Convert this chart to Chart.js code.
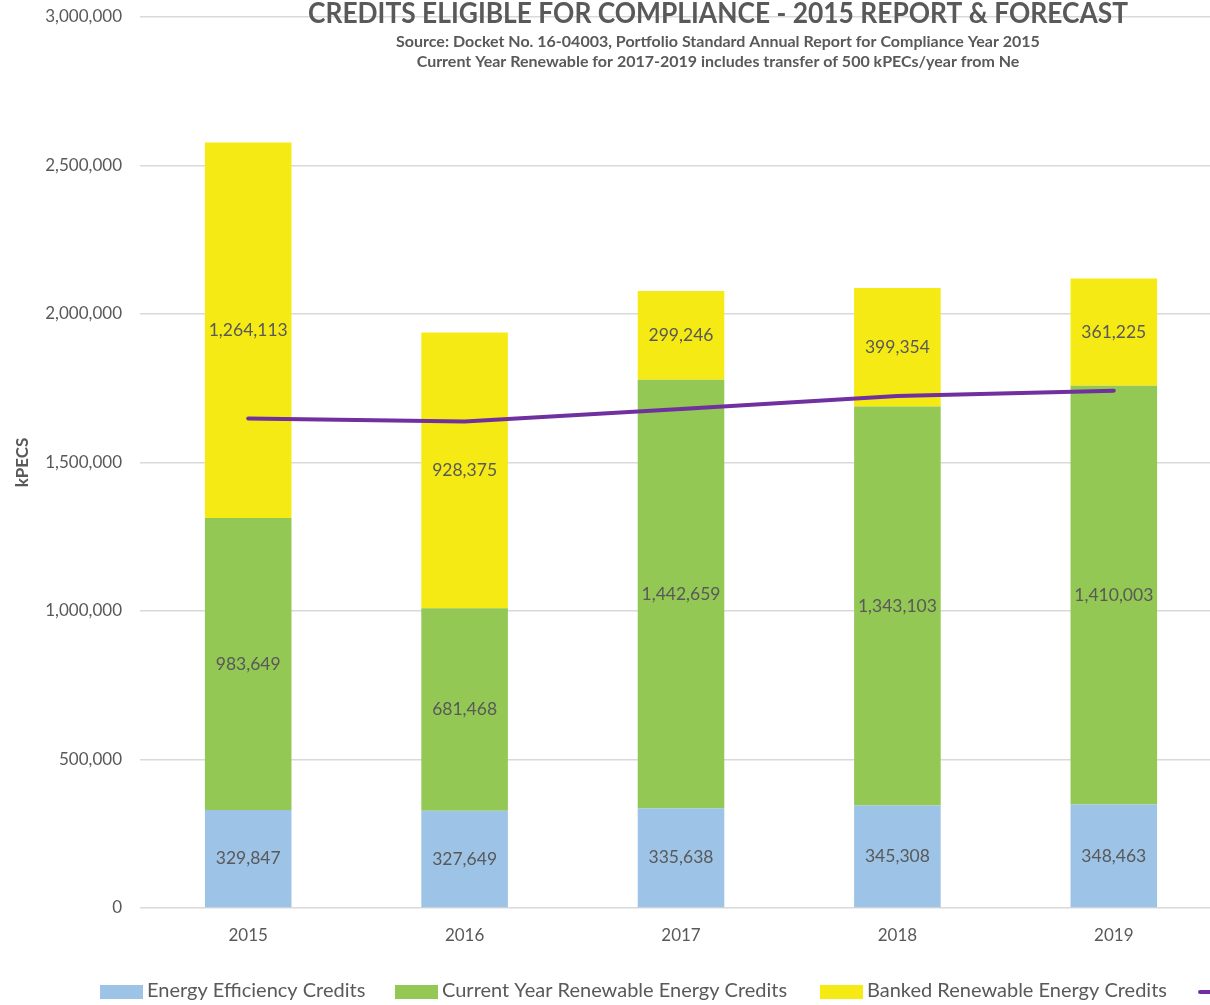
<!DOCTYPE html>
<html>
<head>
<meta charset="utf-8">
<title>Credits Eligible for Compliance</title>
<script src="https://cdn.jsdelivr.net/npm/chart.js@4.4.1/dist/chart.umd.min.js"></script>
<style>
  html, body { margin: 0; padding: 0; overflow: hidden; background: #ffffff; }
  #wrap { position: relative; width: 1230px; height: 1005px; }
</style>
</head>
<body>
<div id="wrap"><canvas id="chart"></canvas></div>
<script>
// Compliance years on the category axis
const years = ['2015', '2016', '2017', '2018', '2019'];

// Stacked credit components (kPECs)
const efficiencyCredits = [329847, 327649, 335638, 345308, 348463];
const currentRenewableCredits = [983649, 681468, 1442659, 1343103, 1410003];
const bankedRenewableCredits = [1264113, 928375, 299246, 399354, 361225];

// Portfolio standard requirement (line)
const requirement = [1648000, 1638000, 1680000, 1724000, 1742000];

// Value axis ticks
const yTickValues = [0, 500000, 1000000, 1500000, 2000000, 2500000, 3000000];

const seriesNames = [
  'Energy Efficiency Credits',
  'Current Year Renewable Energy Credits',
  'Banked Renewable Energy Credits',
  'Portfolio Standard Requirement'
];

const titleText = 'CREDITS ELIGIBLE FOR COMPLIANCE - 2015 REPORT & FORECAST';
const subtitleLines = [
  'Source: Docket No. 16-04003, Portfolio Standard Annual Report for Compliance Year 2015',
  'Current Year Renewable for 2017-2019 includes transfer of 500 kPECs/year from Ne'
];

const TEXT_GRAY = '#595959';
const FONT = 'Lato, "Open Sans", sans-serif';
const fmt = v => v.toLocaleString('en-US');

// Value labels centred inside each stacked bar segment
const segmentLabels = {
  id: 'segmentLabels',
  afterDatasetsDraw(chart) {
    const ctx = chart.ctx;
    ctx.save();
    ctx.font = '17.5px ' + FONT;
    ctx.fillStyle = TEXT_GRAY;
    ctx.textAlign = 'center';
    ctx.textBaseline = 'middle';
    chart.data.datasets.forEach((ds, i) => {
      if (ds.type === 'line') return;
      const meta = chart.getDatasetMeta(i);
      meta.data.forEach((el, j) => {
        const cy = (el.y + el.base) / 2;
        ctx.fillText(fmt(ds.data[j]), el.x, cy);
      });
    });
    ctx.restore();
  }
};

// Title block and bottom legend
const headerAndLegend = {
  id: 'headerAndLegend',
  afterDraw(chart) {
    const ctx = chart.ctx;
    const cx = 718;
    ctx.save();
    ctx.fillStyle = TEXT_GRAY;
    ctx.textAlign = 'center';
    ctx.textBaseline = 'alphabetic';
    ctx.font = 'bold 28px ' + FONT;
    ctx.fillText(titleText, cx, 23, 820);
    ctx.font = 'bold 16px ' + FONT;
    ctx.fillText(subtitleLines[0], cx, 47, 656);
    ctx.fillText(subtitleLines[1], cx, 67, 610);

    // legend
    const ly = 991;
    ctx.textAlign = 'left';
    ctx.textBaseline = 'middle';
    ctx.font = '20px ' + FONT;
    const starts = [100, 395, 820, 1198];
    const textWidths = [219, 351, 304];
    chart.data.datasets.forEach((ds, i) => {
      const x = starts[i];
      if (ds.type === 'line') {
        ctx.strokeStyle = ds.borderColor;
        ctx.lineWidth = 4;
        ctx.lineCap = 'round';
        ctx.beginPath();
        ctx.moveTo(x + 2, ly + 1);
        ctx.lineTo(x + 40, ly + 1);
        ctx.stroke();
        ctx.fillStyle = TEXT_GRAY;
        ctx.fillText(ds.label, x + 46, ly);
      } else {
        ctx.fillStyle = ds.backgroundColor;
        ctx.fillRect(x, ly - 6, 43, 14);
        ctx.fillStyle = TEXT_GRAY;
        ctx.fillText(ds.label, x + 47, ly, textWidths[i]);
      }
    });
    ctx.restore();
  }
};

new Chart(document.getElementById('chart'), {
  type: 'bar',
  data: {
    labels: years,
    datasets: [
      {
        label: seriesNames[0],
        data: efficiencyCredits,
        backgroundColor: '#9DC3E6',
        stack: 'credits',
        order: 1
      },
      {
        label: seriesNames[1],
        data: currentRenewableCredits,
        backgroundColor: '#92C853',
        stack: 'credits',
        order: 1
      },
      {
        label: seriesNames[2],
        data: bankedRenewableCredits,
        backgroundColor: '#F5EA14',
        stack: 'credits',
        order: 1
      },
      {
        type: 'line',
        label: seriesNames[3],
        data: requirement,
        borderColor: '#7030A0',
        backgroundColor: '#7030A0',
        borderWidth: 4,
        borderCapStyle: 'round',
        pointRadius: 0,
        pointHoverRadius: 0,
        tension: 0,
        fill: false,
        stack: 'requirement',
        order: 0
      }
    ]
  },
  options: {
    responsive: true,
    maintainAspectRatio: false,
    animation: false,
    layout: { padding: { top: 17, right: 8, bottom: 50, left: 0 } },
    datasets: {
      bar: { barPercentage: 0.4, categoryPercentage: 1.0 }
    },
    plugins: {
      legend: { display: false },
      title: { display: false },
      tooltip: { enabled: false }
    },
    scales: {
      x: {
        stacked: true,
        grid: { display: false },
        border: { display: false },
        ticks: { color: TEXT_GRAY, font: { family: FONT, size: 17 }, padding: 9 },
        afterFit(scale) { scale.height = 47; }
      },
      y: {
        stacked: true,
        min: 0,
        max: 3000000,
        afterBuildTicks(scale) { scale.ticks = yTickValues.map(v => ({ value: v })); },
        grid: { color: '#D9D9D9', lineWidth: 1.5, drawTicks: false },
        border: { display: false },
        ticks: {
          color: TEXT_GRAY,
          font: { family: FONT, size: 17 },
          padding: 18,
          callback: v => fmt(v)
        },
        title: {
          display: true,
          text: 'kPECS',
          color: TEXT_GRAY,
          font: { family: FONT, size: 17, weight: 'bold' },
          padding: { top: 12, bottom: 0 }
        },
        afterFit(scale) {
          scale.width = 140;
          scale.paddingTop = 0;
          scale.paddingBottom = 0;
        }
      }
    }
  },
  plugins: [segmentLabels, headerAndLegend]
});
</script>
</body>
</html>
